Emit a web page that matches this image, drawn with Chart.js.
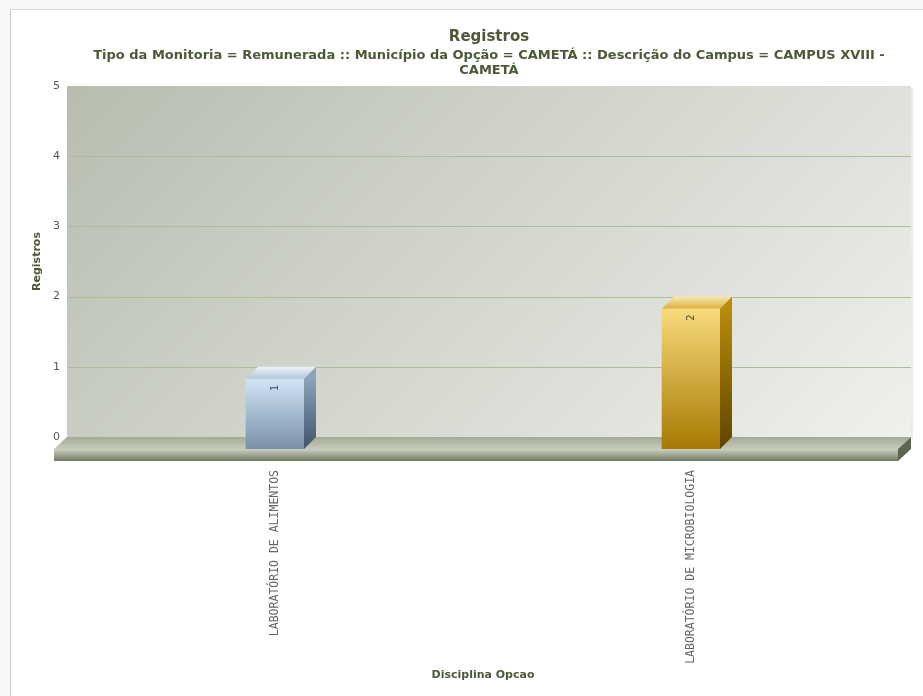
<!DOCTYPE html>
<html lang="pt">

<head>
    <meta charset="UTF-8">
    <title>Registros</title>
    <script src="https://cdn.jsdelivr.net/npm/chart.js"></script>
    <style>
        html, body { margin: 0; padding: 0; background: #f8f8f8; }
        .frame {
            position: absolute; left: 10px; top: 9px;
            width: 912px; height: 686px;
            background: #fff;
            border-left: 1px solid #c9c9c9;
            border-top: 1px solid #d9d9d9;
            overflow: hidden;
        }
        #chart { display: block; }
    </style>
</head>

<body>
    <div class="frame"><canvas id="chart" width="956" height="686"></canvas></div>

    <script>
        // data
        const categories = ['LABORATÓRIO DE ALIMENTOS', 'LABORATÓRIO DE MICROBIOLOGIA'];
        const registros = [1, 2];
        const yTicks = [0, 1, 2, 3, 4, 5];
        const titleText = 'Registros';
        const subtitleLines = [
            'Tipo da Monitoria = Remunerada :: Município da Opção = CAMETÁ :: Descrição do Campus = CAMPUS XVIII -',
            'CAMETÁ'
        ];

        // 3d look
        const DX = 12, DY = 12, FX = 13;
        const faces = [
            { front: ['#d3e4f6', '#7890a8'], side: ['#8aa2ba', '#40536a'], top: ['#eef3f8', '#b3c6d9'] },
            { front: ['#f8da7c', '#a67a02'], side: ['#b98b0c', '#5e4500'], top: ['#f7e6b0', '#dcb23c'] }
        ];
        const olive = '#4b5a36';

        function grad(ctx, x0, y0, x1, y1, c) {
            const g = ctx.createLinearGradient(x0, y0, x1, y1);
            g.addColorStop(0, c[0]);
            g.addColorStop(1, c[1]);
            return g;
        }

        function frontFill(context) {
            const chart = context.chart;
            const f = faces[context.dataIndex % faces.length];
            if (!chart.chartArea || !chart.scales.y) return f.front[1];
            const y = chart.scales.y;
            return grad(chart.ctx, 0, y.getPixelForValue(context.raw), 0, y.getPixelForValue(0), f.front);
        }

        const box3d = {
            id: 'box3d',
            beforeDraw(chart) {
                const { ctx, chartArea: a } = chart;
                const y = chart.scales.y;
                const right = a.right + DX;
                ctx.save();
                // back wall, diagonal shading
                const t = ((right - a.left) + (a.bottom - a.top)) / 2;
                ctx.fillStyle = grad(ctx, a.left, a.top, a.left + t, a.top + t, ['#b8bdb0', '#eff1ec']);
                ctx.fillRect(a.left, a.top, right - a.left, a.bottom - a.top);
                ctx.fillStyle = 'rgba(0,0,0,0.08)';
                ctx.fillRect(right, a.top + 2, 2, a.bottom - a.top);
                // grid lines on the wall
                ctx.strokeStyle = '#b0bb9e';
                ctx.lineWidth = 1;
                yTicks.forEach(v => {
                    if (v === 0 || v === 5) return;
                    const py = Math.round(y.getPixelForValue(v)) + 0.5;
                    ctx.beginPath();
                    ctx.moveTo(a.left, py);
                    ctx.lineTo(right, py);
                    ctx.stroke();
                });
                // floor
                const b = a.bottom;
                ctx.fillStyle = grad(ctx, 0, b, 0, b + DY, ['#a3aa95', '#c6cabb']);
                ctx.beginPath();
                ctx.moveTo(a.left, b);
                ctx.lineTo(right, b);
                ctx.lineTo(right - FX, b + DY);
                ctx.lineTo(a.left - FX, b + DY);
                ctx.closePath();
                ctx.fill();
                ctx.fillStyle = grad(ctx, 0, b + DY, 0, b + DY + 12, ['#cdd1c3', '#6f795e']);
                ctx.fillRect(a.left - FX, b + DY, right - a.left, 12);
                ctx.fillStyle = '#5c664e';
                ctx.beginPath();
                ctx.moveTo(right - FX, b + DY);
                ctx.lineTo(right, b);
                ctx.lineTo(right, b + 12);
                ctx.lineTo(right - FX, b + DY + 12);
                ctx.closePath();
                ctx.fill();
                ctx.restore();
            },
            beforeDatasetsDraw(chart) {
                chart.ctx.save();
                chart.ctx.translate(0, DY);
            },
            afterDatasetsDraw(chart) {
                const ctx = chart.ctx;
                ctx.restore();
                const meta = chart.getDatasetMeta(0);
                meta.data.forEach((el, i) => {
                    const p = el.getProps(['x', 'y', 'base', 'width'], true);
                    const f = faces[i % faces.length];
                    const l = p.x - p.width / 2, r = p.x + p.width / 2;
                    const top = p.y + DY, base = p.base + DY;
                    ctx.save();
                    // side
                    ctx.fillStyle = grad(ctx, 0, top, 0, base, f.side);
                    ctx.beginPath();
                    ctx.moveTo(r, top);
                    ctx.lineTo(r + DX, top - DY);
                    ctx.lineTo(r + DX, base - DY);
                    ctx.lineTo(r, base);
                    ctx.closePath();
                    ctx.fill();
                    // top
                    ctx.fillStyle = grad(ctx, 0, top - DY, 0, top, f.top);
                    ctx.beginPath();
                    ctx.moveTo(l, top);
                    ctx.lineTo(l + DX, top - DY);
                    ctx.lineTo(r + DX, top - DY);
                    ctx.lineTo(r, top);
                    ctx.closePath();
                    ctx.fill();
                    // value label
                    ctx.translate(p.x, top + 9);
                    ctx.rotate(-Math.PI / 2);
                    ctx.font = '10px "DejaVu Sans"';
                    ctx.fillStyle = '#4a4a4a';
                    ctx.textAlign = 'center';
                    ctx.textBaseline = 'middle';
                    ctx.fillText(String(registros[i]), 0, 0);
                    ctx.restore();
                });
            }
        };

        new Chart(document.getElementById('chart'), {
            type: 'bar',
            data: {
                labels: categories,
                datasets: [{
                    label: 'Registros',
                    data: registros,
                    backgroundColor: frontFill,
                    borderWidth: 0,
                    barThickness: 58
                }]
            },
            options: {
                responsive: false,
                animation: false,
                layout: { padding: 0 },
                scales: {
                    x: {
                        grid: { display: false, drawTicks: false },
                        border: { display: false },
                        ticks: {
                            autoSkip: false,
                            minRotation: 90,
                            maxRotation: 90,
                            padding: 33,
                            color: '#666',
                            font: { family: '"DejaVu Sans Mono"', size: 11.5 }
                        },
                        title: {
                            display: true,
                            text: 'Disciplina Opcao',
                            color: olive,
                            font: { family: '"DejaVu Sans"', size: 11, weight: 'bold' },
                            padding: { top: 0, bottom: 14 }
                        },
                        afterFit(s) { s.height = 259; }
                    },
                    y: {
                        min: 0,
                        max: 5,
                        grid: { display: false, drawTicks: false },
                        border: { display: false },
                        ticks: {
                            stepSize: 1,
                            padding: 7,
                            color: '#555',
                            font: { family: '"DejaVu Sans"', size: 11 }
                        },
                        title: {
                            display: true,
                            text: 'Registros',
                            color: olive,
                            font: { family: '"DejaVu Sans"', size: 11, weight: 'bold' },
                            padding: { top: 20, bottom: 0 }
                        },
                        afterFit(s) { s.width = 56; }
                    },
                    yr: {
                        type: 'linear',
                        position: 'right',
                        grid: { display: false, drawTicks: false },
                        border: { display: false },
                        ticks: { display: false },
                        afterFit(s) { s.width = 68; }
                    }
                },
                plugins: {
                    legend: { display: false },
                    tooltip: { enabled: false },
                    title: {
                        display: true,
                        text: titleText,
                        color: olive,
                        font: { family: '"DejaVu Sans"', size: 15, weight: 'bold' },
                        padding: { top: 18, bottom: 0 }
                    },
                    subtitle: {
                        display: true,
                        text: subtitleLines,
                        color: olive,
                        font: { family: '"DejaVu Sans"', size: 13, weight: 'bold', lineHeight: 1.154 },
                        padding: { top: 2, bottom: 8 }
                    }
                }
            },
            plugins: [box3d]
        });
    </script>
</body>

</html>
